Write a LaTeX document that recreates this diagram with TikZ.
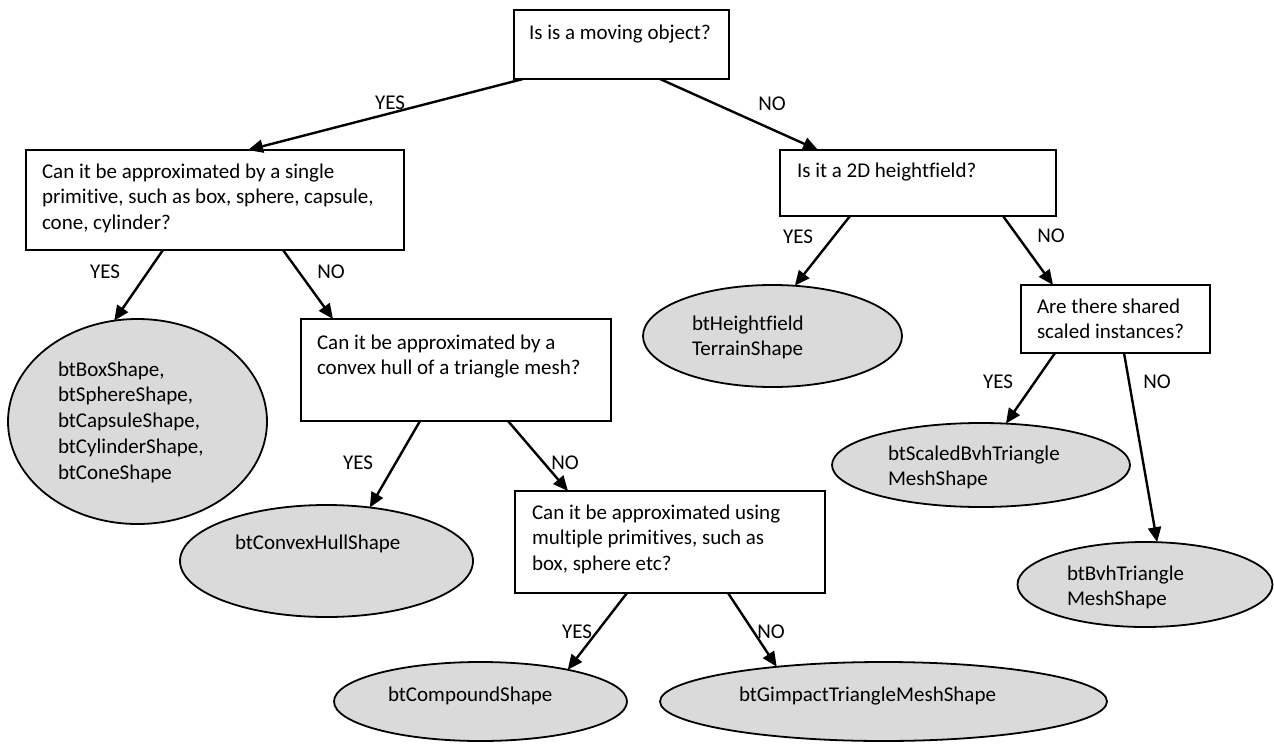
\documentclass[tikz,border=0pt]{standalone}
\usepackage{fontspec}
\setmainfont{Carlito}[Ligatures={NoCommon}]
\usetikzlibrary{arrows.meta,shapes.geometric,calc}
\definecolor{leafgray}{RGB}{218,218,218}
\begin{document}
\begin{tikzpicture}[x=1pt,y=-1pt,
  every node/.style={font=\fontsize{21}{25.8}\selectfont},
  qbox/.style={draw, line width=2pt, anchor=north west, inner sep=0pt, outer sep=0pt},
  qtext/.style={anchor=base west, inner sep=0pt, outer sep=0pt},
  leaf/.style={ellipse, draw, line width=1.8pt, fill=leafgray, inner sep=0pt, outer sep=0pt},
  lbl/.style={inner sep=0pt},
  arr/.style={line width=2.4pt, -{Triangle[length=15pt,width=13pt]}}]
\useasboundingbox (0,0) rectangle (1274,744);

% question boxes
\node[qbox, minimum width=215pt, minimum height=69pt] (q1) at (514,10) {};
\node[qbox, minimum width=378pt, minimum height=100pt] (q2) at (26,150) {};
\node[qbox, minimum width=276pt, minimum height=66pt] (q3) at (780,150) {};
\node[qbox, minimum width=310pt, minimum height=102pt] (q4) at (301,319) {};
\node[qbox, minimum width=189pt, minimum height=68pt] (q5) at (1021,285) {};
\node[qbox, minimum width=310pt, minimum height=102pt] (q6) at (515,491) {};

\node[qtext] (q1t) at (529,39) {Is is a moving object?};
\node[qtext] (q2t) at (42,178) {\begin{tabular}[t]{@{}l@{}}Can it be approximated by a single\\primitive, such as box, sphere, capsule,\\cone, cylinder?\end{tabular}};
\node[qtext] (q3t) at (797,177) {Is it a 2D heightfield?};
\node[qtext] (q4t) at (317,349) {\begin{tabular}[t]{@{}l@{}}Can it be approximated by a\\convex hull of a triangle mesh?\end{tabular}};
\node[qtext] (q5t) at (1037,313) {\begin{tabular}[t]{@{}l@{}}Are there shared\\scaled instances?\end{tabular}};
\node[qtext] (q6t) at (532,519) {\begin{tabular}[t]{@{}l@{}}Can it be approximated using\\multiple primitives, such as\\box, sphere etc?\end{tabular}};

% leaf ellipses
\node[leaf, minimum width=259pt, minimum height=205pt] (e1) at (137.5,421.5) {};
\node[leaf, minimum width=293pt, minimum height=112pt] (e2) at (326.5,561) {};
\node[leaf, minimum width=259pt, minimum height=102pt] (e3) at (772.5,336) {};
\node[leaf, minimum width=298pt, minimum height=84pt] (e4) at (981,465) {};
\node[leaf, minimum width=255pt, minimum height=85pt] (e5) at (1145,584.5) {};
\node[leaf, minimum width=293pt, minimum height=79pt] (e6) at (480.5,701.5) {};
\node[leaf, minimum width=447pt, minimum height=79pt] (e7) at (883.5,701.5) {};

\node[qtext] (e1t) at (58,376) {\begin{tabular}[t]{@{}l@{}}btBoxShape,\\btSphereShape,\\btCapsuleShape,\\btCylinderShape,\\btConeShape\end{tabular}};
\node[qtext] (e2t) at (235,549) {btConvexHullShape};
\node[qtext] (e3t) at (692,330) {\begin{tabular}[t]{@{}l@{}}btHeightfield\\TerrainShape\end{tabular}};
\node[qtext] (e4t) at (888,460) {\begin{tabular}[t]{@{}l@{}}btScaledBvhTriangle\\MeshShape\end{tabular}};
\node[qtext] (e5t) at (1067,580) {\begin{tabular}[t]{@{}l@{}}btBvhTriangle\\MeshShape\end{tabular}};
\node[qtext] (e6t) at (388,701) {btCompoundShape};
\node[qtext] (e7t) at (739,701) {btGimpactTriangleMeshShape};

% connectors
\draw[arr] ($(q1.south west)+(9,0)$) -- ($(q2.north west)+(222,0)$);
\draw[arr] ($(q1.south west)+(146,0)$) -- ($(q3.north west)+(38,0)$);
\draw[arr] ($(q2.south west)+(137,0)$) -- (e1.103.4);
\draw[arr] ($(q2.south west)+(257,0)$) -- ($(q4.north west)+(32,0)$);
\draw[arr] ($(q3.south west)+(70,0)$) -- (e3.66.9);
\draw[arr] ($(q3.south west)+(223,0)$) -- ($(q5.north west)+(32,0)$);
\draw[arr] ($(q4.south west)+(119,0)$) -- (e2.51.1);
\draw[arr] ($(q4.south west)+(207,0)$) -- ($(q6.north west)+(53,0)$);
\draw[arr] ($(q5.south west)+(34,0)$) -- (e4.59.9);
\draw[arr] ($(q5.south west)+(103,0)$) -- (e5.74.2);
\draw[arr] ($(q6.south west)+(112,0)$) -- (e6.20);
\draw[arr] ($(q6.south west)+(213,0)$) -- (e7.162.6);

% branch labels
\node[lbl] (l1y) at (390,103) {YES};
\node[lbl] (l1n) at (772,104) {NO};
\node[lbl] (l2y) at (105,272) {YES};
\node[lbl] (l2n) at (331,272) {NO};
\node[lbl] (l3y) at (798,237) {YES};
\node[lbl] (l3n) at (1051,236) {NO};
\node[lbl] (l4y) at (358,463) {YES};
\node[lbl] (l4n) at (565,463) {NO};
\node[lbl] (l5y) at (998,382) {YES};
\node[lbl] (l5n) at (1157,382) {NO};
\node[lbl] (l6y) at (577,632) {YES};
\node[lbl] (l6n) at (771,632) {NO};
\end{tikzpicture}
\end{document}
